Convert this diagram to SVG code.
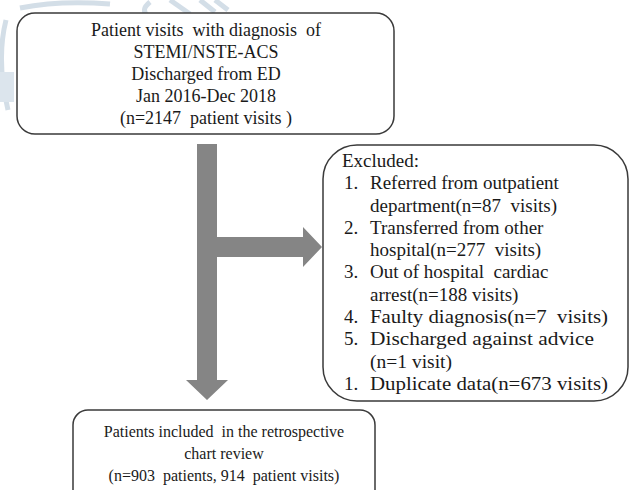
<svg xmlns="http://www.w3.org/2000/svg" width="633" height="490" viewBox="0 0 633 490">
  <style>
    .box { fill: #ffffff; stroke: #3a3a3a; stroke-width: 1.5; }
    .t { font-family: 'Liberation Serif', 'DejaVu Serif', serif; fill: #1a1a1a; }
    .c { text-anchor: middle; font-size: 18px; }
    .ex { font-size: 19px; }
    .arrow { fill: #858585; }
    .wm { fill: none; stroke: #c9d6e2; stroke-width: 5; }
  </style>
  <rect width="633" height="490" fill="#ffffff"/>
  <g id="watermark" opacity="0.8">
    <path class="wm" d="M20 8 Q60 0 110 4"/>
    <path class="wm" d="M150 2 Q140 10 148 16"/>
    <path class="wm" d="M170 0 L190 14"/>
    <path class="wm" d="M200 0 L215 12 M215 0 L228 10"/>
    <path class="wm" d="M6 20 Q-4 60 8 110" stroke-width="4"/>
    <rect x="0" y="72" width="14" height="30" fill="#d4dfe9" stroke="none"/>
  </g>
  <g id="connectors">
    <polygon class="arrow" points="197,144 217,144 217,237 303,237 303,227 322,247 303,267 303,257 217,257 217,380 228,380 207,400 186,380 197,380"/>
  </g>
  <g id="node-start">
    <rect class="box" x="17" y="13" width="377" height="121" rx="18"/>
    <text class="t c" x="206" y="36" xml:space="preserve">Patient visits  with diagnosis  of</text>
    <text class="t c" x="206" y="58">STEMI/NSTE-ACS</text>
    <text class="t c" x="206" y="80">Discharged from ED</text>
    <text class="t c" x="206" y="102">Jan 2016-Dec 2018</text>
    <text class="t c" x="206" y="124" xml:space="preserve">(n=2147  patient visits )</text>
  </g>
  <g id="node-excluded">
    <rect class="box" x="323" y="145" width="305" height="256" rx="34"/>
    <g class="t ex">
      <text x="342" y="167">Excluded:</text>
      <text x="344" y="189">1.</text><text x="370" y="189">Referred from outpatient</text>
      <text x="370" y="212" xml:space="preserve">department(n=87  visits)</text>
      <text x="344" y="234">2.</text><text x="370" y="234">Transferred from other</text>
      <text x="370" y="256" xml:space="preserve">hospital(n=277  visits)</text>
      <text x="344" y="278">3.</text><text x="370" y="278" xml:space="preserve">Out of hospital  cardiac</text>
      <text x="370" y="301">arrest(n=188 visits)</text>
      <text x="344" y="323">4.</text><text x="370" y="323" xml:space="preserve" textLength="238" lengthAdjust="spacingAndGlyphs">Faulty diagnosis(n=7  visits)</text>
      <text x="344" y="345">5.</text><text x="370" y="345" textLength="224" lengthAdjust="spacingAndGlyphs">Discharged against advice</text>
      <text x="370" y="368" textLength="82" lengthAdjust="spacingAndGlyphs">(n=1 visit)</text>
      <text x="344" y="390">1.</text><text x="370" y="390" textLength="238" lengthAdjust="spacingAndGlyphs">Duplicate data(n=673 visits)</text>
    </g>
  </g>
  <g id="node-included">
    <rect class="box" x="73" y="410" width="302" height="95" rx="15"/>
    <text class="t c" x="224" y="437" xml:space="preserve" style="font-size:16px">Patients included  in the retrospective</text>
    <text class="t c" x="224" y="459" style="font-size:16px">chart review</text>
    <text class="t c" x="224" y="481" xml:space="preserve" style="font-size:16px">(n=903  patients, 914  patient visits)</text>
  </g>
</svg>
